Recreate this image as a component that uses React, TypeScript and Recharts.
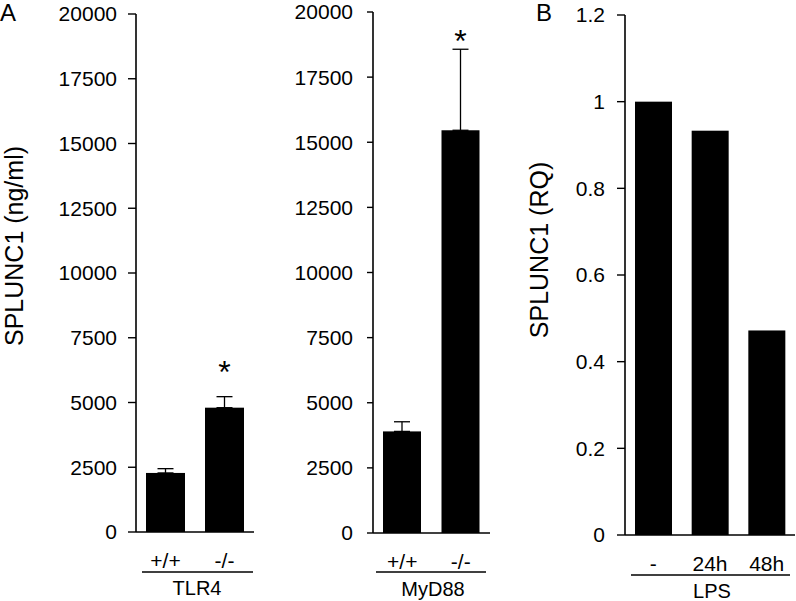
import { BarChart, Bar, XAxis, YAxis, ErrorBar } from 'recharts'

// panel A, left: TLR4
const tlr4Groups = ['+/+', '-/-']
const tlr4Values = [2280, 4800]
const tlr4Errors = [165, 425]
const tlr4Sig = ['', '*']

// panel A, right: MyD88
const myd88Groups = ['+/+', '-/-']
const myd88Values = [3900, 15460]
const myd88Errors = [370, 3110]
const myd88Sig = ['', '*']

// panel B: LPS
const lpsGroups = ['-', '24h', '48h']
const lpsValues = [1, 0.933, 0.472]

const ngTicks = [0, 2500, 5000, 7500, 10000, 12500, 15000, 17500, 20000]
const rqTicks = [0, 0.2, 0.4, 0.6, 0.8, 1, 1.2]

const FONT = '"Liberation Sans", Arial, Helvetica, sans-serif'
const axisLine = { stroke: '#000', strokeWidth: 1.6 }

type Row = { name: string; value: number; err: [number, number]; sig: string }

const build = (groups: string[], values: number[], errors?: number[], sig?: string[]): Row[] =>
  groups.map((name, i) => ({
    name,
    value: values[i],
    err: [0, errors ? errors[i] : 0],
    sig: sig ? sig[i] : '',
  }))

// bar rect plus the significance star above its error bar
const starShape = (gap: number) => (props: any) => {
  const { x, y, width, height, payload } = props
  const top = payload.value ? y - (payload.err[1] * height) / payload.value : y
  return (
    <g>
      <rect x={x} y={y} width={width} height={height} fill="#000" />
      {payload.sig && (
        <text x={x + width / 2} y={top - gap} textAnchor="middle" fontSize={32} fill="#000" fontFamily={FONT}>
          {payload.sig}
        </text>
      )}
    </g>
  )
}

interface PanelProps {
  data: Row[]
  left: number
  width: number
  axisWidth: number
  top: number
  right: number
  bottom: number
  ticks: number[]
  max: number
  tickSize: number
  tickMargin: number
  barSize: number
  gap?: number
  errors?: boolean
}

function Panel(p: PanelProps) {
  return (
    <div style={{ position: 'absolute', left: p.left, top: 0 }}>
      <BarChart
        width={p.width}
        height={601}
        data={p.data}
        margin={{ top: p.top, right: p.right, bottom: p.bottom, left: 0 }}
      >
        <XAxis
          dataKey="name"
          height={40}
          interval={0}
          tickLine={false}
          tickSize={0}
          tickMargin={21}
          axisLine={axisLine}
          tick={{ fill: '#000', fontSize: 21, fontFamily: FONT }}
        />
        <YAxis
          width={p.axisWidth}
          domain={[0, p.max]}
          ticks={p.ticks}
          interval={0}
          tickSize={p.tickSize}
          tickMargin={p.tickMargin}
          axisLine={axisLine}
          tickLine={{ stroke: '#000', strokeWidth: 1.4 }}
          tick={{ fill: '#000', fontSize: 21, fontFamily: FONT }}
        />
        <Bar
          dataKey="value"
          fill="#000"
          barSize={p.barSize}
          isAnimationActive={false}
          shape={starShape(p.gap ?? 0)}
        >
          {p.errors && (
            <ErrorBar dataKey="err" width={8} stroke="#000" strokeWidth={1.3} direction="y" />
          )}
        </Bar>
      </BarChart>
    </div>
  )
}

export default function App() {
  return (
    <div
      style={{
        position: 'absolute',
        left: 0,
        top: 0,
        width: 796,
        height: 601,
        background: '#fff',
        fontFamily: FONT,
        overflow: 'hidden',
      }}
    >
      <Panel
        data={build(tlr4Groups, tlr4Values, tlr4Errors, tlr4Sig)}
        left={0}
        width={270}
        axisWidth={136}
        top={14}
        right={16}
        bottom={29}
        ticks={ngTicks}
        max={20000}
        tickSize={8}
        tickMargin={11}
        barSize={39}
        gap={14}
        errors
      />
      <Panel
        data={build(myd88Groups, myd88Values, myd88Errors, myd88Sig)}
        left={270}
        width={230}
        axisWidth={103}
        top={12}
        right={10}
        bottom={28}
        ticks={ngTicks}
        max={20000}
        tickSize={6}
        tickMargin={14}
        barSize={38}
        gap={-3}
        errors
      />
      <Panel
        data={build(lpsGroups, lpsValues)}
        left={540}
        width={256}
        axisWidth={85}
        top={15}
        right={1}
        bottom={26}
        ticks={rqTicks}
        max={1.2}
        tickSize={8}
        tickMargin={12}
        barSize={37}
      />
      <svg
        width={796}
        height={601}
        style={{ position: 'absolute', left: 0, top: 0, pointerEvents: 'none' }}
        fontFamily={FONT}
        fill="#000"
      >
        <text x={0} y={21} fontSize={24}>A</text>
        <text x={536} y={21} fontSize={24}>B</text>
        <text transform="translate(23,246) rotate(-90)" textAnchor="middle" fontSize={25}>
          SPLUNC1 (ng/ml)
        </text>
        <text transform="translate(548,250) rotate(-90)" textAnchor="middle" fontSize={25}>
          SPLUNC1 (RQ)
        </text>
        <line x1={142} x2={253} y1={572} y2={572} stroke="#000" strokeWidth={1.6} />
        <text x={197} y={595} textAnchor="middle" fontSize={20}>TLR4</text>
        <line x1={376} x2={486} y1={572} y2={572} stroke="#000" strokeWidth={1.6} />
        <text x={433} y={596} textAnchor="middle" fontSize={20}>MyD88</text>
        <line x1={631} x2={790} y1={575} y2={575} stroke="#000" strokeWidth={1.6} />
        <text x={712} y={598} textAnchor="middle" fontSize={20}>LPS</text>
      </svg>
    </div>
  )
}
